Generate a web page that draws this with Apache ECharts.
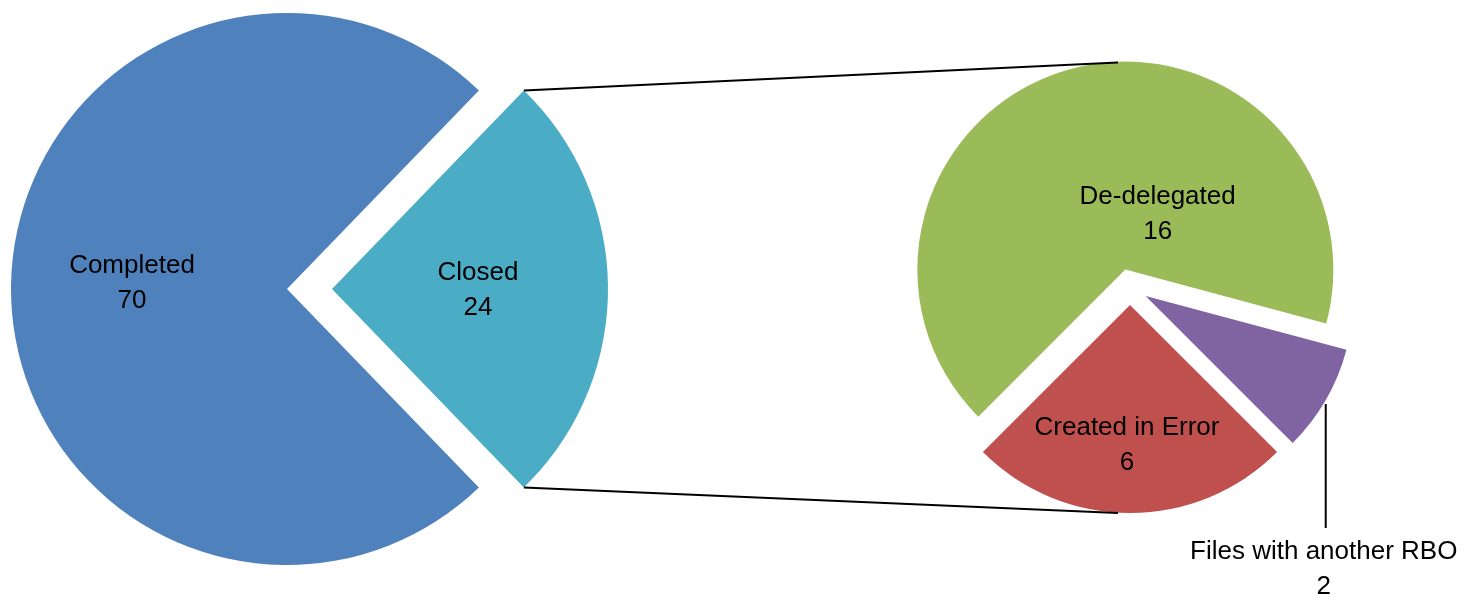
<!DOCTYPE html>
<html>
<head>
<meta charset="utf-8">
<title>Case outcomes</title>
<script src="https://cdn.jsdelivr.net/npm/echarts@6/dist/echarts.min.js"></script>
<style>
  html, body { margin: 0; padding: 0; background: #ffffff; }
  #chart { width: 1464px; height: 598px; }
</style>
</head>
<body>
<div id="chart"></div>
<script>
// Case outcomes: the primary pie, with the "Closed" share broken down in a secondary pie
const mainNames = ['Completed', 'Closed'];
const mainValues = [70, 24];
const detailNames = ['De-delegated', 'Created in Error', 'Files with another RBO'];
const detailValues = [16, 6, 2];

const mainColors = ['#4F81BD', '#4BACC6'];
const detailColors = ['#9BBB59', '#C0504D', '#8064A2'];

// Pie geometry (pixels): centre, radius and per-slice explosion distance
const MAIN = { cx: 287, cy: 289, r: 276, explode: [0, 45] };
const DETAIL = { cx: 1130, cy: 287, r: 208, explode: [18, 18, 18] };

// Label nudges relative to the default inside position
const LABEL_SHIFT = {
  'Completed': [-14, -6],
  'Closed': [5, 1],
  'De-delegated': [60, 48],
  'Created in Error': [-3, 33]
};

const FONT = { fontFamily: '"Liberation Sans", Arial, sans-serif', fontSize: 26, lineHeight: 35, color: '#000000' };
const RAD = Math.PI / 180;
const sum = a => a.reduce((s, v) => s + v, 0);

// Primary pie: "Closed" centred on 3 o'clock, slices run clockwise
const mainStart = -(mainValues[1] / sum(mainValues)) * 180;
// Secondary pie: "Created in Error" centred on 6 o'clock, slices run counter-clockwise
const detailTotal = sum(detailValues);
const detailStart = ((270 - (detailValues[1] / detailTotal) * 180 - (detailValues[0] / detailTotal) * 360) % 360 + 360) % 360;

function midAngle(values, idx, start, clockwise) {
  const total = sum(values);
  const sweep = (sum(values.slice(0, idx)) + values[idx] / 2) / total * 360;
  return start + (clockwise ? -sweep : sweep);
}

function sliceCenter(values, idx, geom, start, clockwise) {
  const a = midAngle(values, idx, start, clockwise) * RAD;
  return [geom.cx + geom.explode[idx] * Math.cos(a), geom.cy - geom.explode[idx] * Math.sin(a)];
}

// One pie series per slice so each slice can sit at its own exploded centre
function sliceSeries(names, values, colors, geom, start, clockwise, idx) {
  const center = sliceCenter(values, idx, geom, start, clockwise);
  const outside = names[idx] === 'Files with another RBO';
  const s = {
    type: 'pie',
    silent: true,
    animation: false,
    center: center,
    radius: [0, geom.r],
    startAngle: start,
    clockwise: clockwise,
    avoidLabelOverlap: false,
    itemStyle: { borderWidth: 0 },
    label: Object.assign({
      position: outside ? 'outside' : 'inside',
      formatter: '{b}\n{c}',
      align: 'center'
    }, FONT),
    labelLine: { show: outside, lineStyle: { color: '#000000', width: 2 } },
    data: names.map((n, i) => ({
      name: n,
      value: values[i],
      itemStyle: { color: i === idx ? colors[i] : 'rgba(0,0,0,0)' },
      label: { show: i === idx },
      labelLine: { show: i === idx && outside }
    }))
  };
  if (outside) {
    // Leader drops straight down from the arc midpoint; label centred underneath
    const a = midAngle(values, idx, start, clockwise) * RAD;
    const px = center[0] + geom.r * Math.cos(a);
    const py = center[1] - geom.r * Math.sin(a);
    s.labelLayout = function () {
      return {
        x: px - 2, y: py + 134,
        align: 'center', verticalAlign: 'top',
        labelLinePoints: [[px, py + 4], [px, py + 128], [px, py + 128]]
      };
    };
  } else {
    s.labelLayout = function (p) {
      const d = LABEL_SHIFT[names[p.dataIndex]] || [0, 0];
      return { dx: d[0], dy: d[1] };
    };
  }
  return s;
}

const series = [];
mainNames.forEach((_, i) => series.push(sliceSeries(mainNames, mainValues, mainColors, MAIN, mainStart, true, i)));
detailNames.forEach((_, i) => series.push(sliceSeries(detailNames, detailValues, detailColors, DETAIL, detailStart, false, i)));

// Connector lines from the exploded "Closed" slice to the secondary pie
const closedC = sliceCenter(mainValues, 1, MAIN, mainStart, true);
const half = (mainValues[1] / sum(mainValues)) * 180 * RAD;
const topStart = [closedC[0] + MAIN.r * Math.cos(half), closedC[1] - MAIN.r * Math.sin(half)];
const botStart = [closedC[0] + MAIN.r * Math.cos(half), closedC[1] + MAIN.r * Math.sin(half)];
const greenC = sliceCenter(detailValues, 0, DETAIL, detailStart, false);
const redC = sliceCenter(detailValues, 1, DETAIL, detailStart, false);
const topEnd = [DETAIL.cx - 12, greenC[1] - DETAIL.r + 1];
const botEnd = [DETAIL.cx - 12, redC[1] + DETAIL.r];

const chart = echarts.init(document.getElementById('chart'), null, { renderer: 'canvas' });
chart.setOption({
  backgroundColor: '#ffffff',
  animation: false,
  series: series,
  graphic: [
    { type: 'line', silent: true, z: 10, shape: { x1: topStart[0], y1: topStart[1], x2: topEnd[0], y2: topEnd[1] }, style: { stroke: '#000000', lineWidth: 2 } },
    { type: 'line', silent: true, z: 10, shape: { x1: botStart[0], y1: botStart[1], x2: botEnd[0], y2: botEnd[1] }, style: { stroke: '#000000', lineWidth: 2 } }
  ]
});
</script>
</body>
</html>
